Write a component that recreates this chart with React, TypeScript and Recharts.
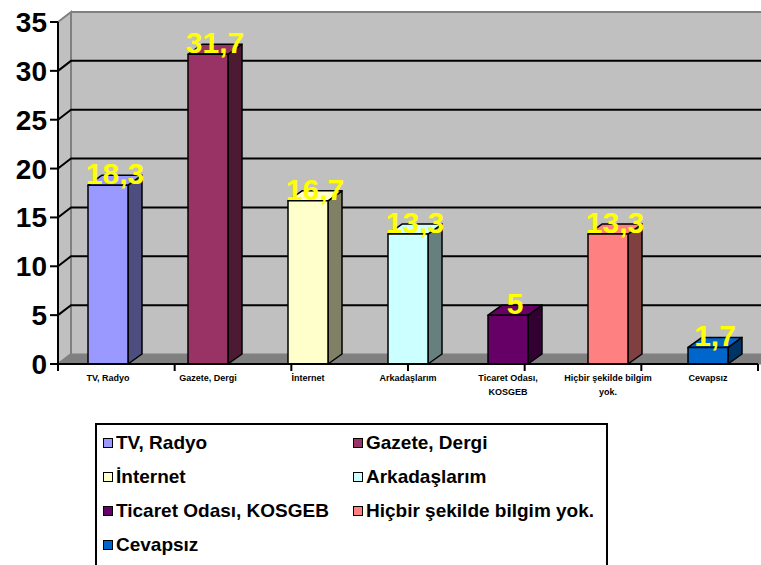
import { BarChart, Bar, XAxis, YAxis, CartesianGrid, Cell, LabelList, Text } from "recharts";

const CATEGORIES = [
  "TV, Radyo", "Gazete, Dergi", "İnternet", "Arkadaşlarım",
  "Ticaret Odası, KOSGEB", "Hiçbir şekilde bilgim yok.", "Cevapsız",
];
const VALUES = [18.3, 31.7, 16.7, 13.3, 5, 13.3, 1.7];
const FRONT_COLORS = ["#9999FF", "#993366", "#FFFFCC", "#CCFFFF", "#660066", "#FF8080", "#0066CC"];
const SIDE_COLORS = ["#4D4D80", "#4D1A33", "#808066", "#668080", "#330033", "#804040", "#003366"];
const Y_TICKS = [0, 5, 10, 15, 20, 25, 30, 35];
const EDGE_TICKS = [0, 1, 2, 3, 4, 5, 6, 7];

const FONT = "'Liberation Sans', Arial, sans-serif";
const DX = 14;
const DY = 10;
const WX = 13; // back wall offset

const data = CATEGORIES.map((name, i) => ({ name, value: VALUES[i] }));

// walls + floor from the first edge line, category boundary ticks from all of them
function edgeLine(p: any) {
  const x = p.x1;
  const top = Math.min(p.y1, p.y2);
  const bottom = Math.max(p.y1, p.y2);
  const tick = <line x1={x} y1={bottom} x2={x} y2={bottom + 7} stroke="#000" strokeWidth={2} />;
  if (p.index !== 0) return <g key={`e${p.index}`}>{tick}</g>;
  const bx = x + WX;
  const right = x + 800;
  return (
    <g key="walls">
      <rect x={bx} y={top - 10} width={right - bx} height={bottom - top} fill="#C0C0C0" />
      <polygon points={`${x},${top} ${bx},${top - 10} ${bx},${bottom - 10} ${x},${bottom}`} fill="#C0C0C0" stroke="#808080" strokeWidth={2} />
      <polygon points={`${x},${bottom} ${bx},${bottom - 10} ${right},${bottom - 10} ${right},${bottom}`} fill="#808080" stroke="#808080" strokeWidth={1} />
      <line x1={bx} y1={top - 10} x2={right} y2={top - 10} stroke="#808080" strokeWidth={2} />
      {tick}
    </g>
  );
}

function gridLine(p: any) {
  const v = Y_TICKS[p.index];
  if (v === 0 || v === 35) return <g key={`g${p.index}`} />;
  return (
    <polyline key={`g${p.index}`} points={`${p.x1},${p.y1} ${p.x1 + WX},${p.y1 - 10} ${p.x2 + 40},${p.y1 - 10}`}
      fill="none" stroke="#000" strokeWidth={2} />
  );
}

function BoxShape(p: any) {
  const { x, y, width, height, fill, index } = p;
  const side = SIDE_COLORS[index];
  const r = x + width;
  const b = y + height;
  return (
    <g stroke="#000" strokeWidth={1.5} strokeLinejoin="round">
      <polygon points={`${r},${y} ${r + DX},${y - DY} ${r + DX},${b - DY} ${r},${b}`} fill={side} />
      <polygon points={`${x},${y} ${x + DX},${y - DY} ${r + DX},${y - DY} ${r},${y}`} fill={fill} />
      <rect x={x} y={y} width={width} height={height} fill={fill} />
    </g>
  );
}

function ValueLabel(p: any) {
  const { x, y, width, value } = p;
  return (
    <text x={x + width / 2 + DX / 2} y={y - 1} textAnchor="middle" fill="#FFFF00"
      fontSize={30} fontWeight="bold" fontFamily={FONT}>
      {String(value).replace(".", ",")}
    </text>
  );
}

const tickStyle = { fontSize: "9px", fontWeight: "bold", fontFamily: FONT };

function CatTick(p: any) {
  return (
    <Text x={p.x} y={p.y + 3} width={95} textAnchor="middle" verticalAnchor="start" lineHeight={14}
      style={tickStyle} fill="#000">
      {p.payload.value}
    </Text>
  );
}

function Legend3D() {
  return (
    <div style={{ position: "absolute", left: 95, top: 423, width: 509, height: 160, border: "2px solid #000", background: "#fff" }}>
      {CATEGORIES.map((c, i) => {
        const col = i % 2;
        const row = Math.floor(i / 2);
        return (
          <div key={c} style={{
            position: "absolute", left: 6 + col * 250, top: 6 + row * 34, height: 24,
            display: "flex", alignItems: "center", fontFamily: FONT, fontWeight: "bold", fontSize: 19, color: "#000", whiteSpace: "nowrap",
          }}>
            <span style={{ display: "inline-block", width: 8, height: 8, border: "1.5px solid #000", background: FRONT_COLORS[i], marginRight: 3 }} />
            {c}
          </div>
        );
      })}
    </div>
  );
}

export default function App() {
  return (
    <div style={{ position: "absolute", left: 0, top: 0, width: 761, height: 565, overflow: "hidden", background: "#fff" }}>
      <BarChart width={761} height={410} data={data} margin={{ top: 22, right: 3, left: 0, bottom: 6 }}>
        <CartesianGrid xAxisId="edge" horizontal={false} vertical={edgeLine} />
        <CartesianGrid xAxisId="edge" vertical={false} horizontal={gridLine} />
        <XAxis xAxisId="edge" type="number" domain={[0, 7]} ticks={EDGE_TICKS} hide />
        <XAxis xAxisId="cat" dataKey="name" height={40} axisLine={{ stroke: "#000", strokeWidth: 2 }} tickLine={false}
          interval={0} tick={CatTick} />
        <YAxis domain={[0, 35]} ticks={Y_TICKS} width={58} tickSize={8} tickMargin={3} interval={0}
          axisLine={{ stroke: "#000", strokeWidth: 2 }} tickLine={{ stroke: "#000", strokeWidth: 2 }}
          tick={{ fontSize: 28, fontWeight: "bold", fill: "#000", fontFamily: FONT }} />
        <Bar xAxisId="cat" dataKey="value" barSize={40} shape={BoxShape} isAnimationActive={false}>
          {data.map((_, i) => <Cell key={i} fill={FRONT_COLORS[i]} />)}
          <LabelList dataKey="value" content={ValueLabel} />
        </Bar>
      </BarChart>
      <Legend3D />
    </div>
  );
}
